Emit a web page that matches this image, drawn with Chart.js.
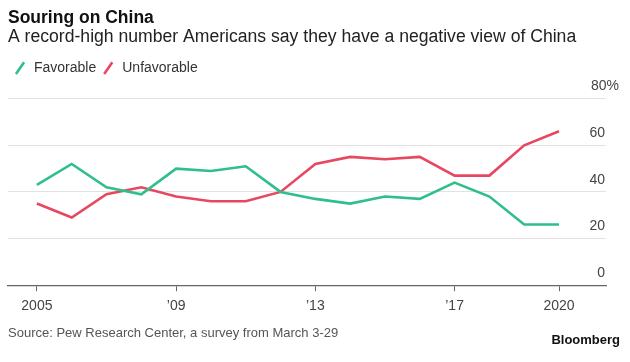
<!DOCTYPE html>
<html>
<head>
<meta charset="utf-8">
<script src="https://cdn.jsdelivr.net/npm/chart.js@4"></script>
<style>
  html, body { margin: 0; padding: 0; background: #fff; }
  #wrap { position: relative; width: 630px; height: 362px; font-family: "Liberation Sans", Arial, sans-serif; }
  #source { position: absolute; left: 8px; top: 325px; font-size: 13px; color: #555; }
  #brand { position: absolute; right: 10px; top: 332px; font-size: 13px; font-weight: bold; color: #111; }
</style>
</head>
<body>
<div id="wrap">
  <canvas id="chart" width="630" height="362"></canvas>
  <div id="source">Source: Pew Research Center, a survey from March 3-29</div>
  <div id="brand">Bloomberg</div>
</div>
<script>
// Dados
const years = [2005, 2006, 2007, 2008, 2009, 2010, 2011, 2012, 2013, 2014, 2015, 2016, 2017, 2018, 2019, 2020];
const favorable = [43, 52, 42, 39, 50, 49, 51, 40, 37, 35, 38, 37, 44, 38, 26, 26];
const unfavorable = [35, 29, 39, 42, 38, 36, 36, 40, 52, 55, 54, 55, 47, 47, 60, 66];
const xTicks = [2005, 2009, 2013, 2017, 2020];
const yTicks = [0, 20, 40, 60, 80];

const green = "#2fbf8b";
const red = "#e8485f";

function toPoints(values) {
    return years.map((y, i) => ({ x: y, y: values[i] }));
}

const ctx = document.getElementById("chart").getContext("2d");
new Chart(ctx, {
    type: "line",
    data: {
        datasets: [
            {
                label: "Favorable",
                data: toPoints(favorable),
                borderColor: green,
                backgroundColor: green,
                borderWidth: 2.6,
                pointRadius: 0,
                pointStyle: "line",
                pointRotation: -55,
                tension: 0
            },
            {
                label: "Unfavorable",
                data: toPoints(unfavorable),
                borderColor: red,
                backgroundColor: red,
                borderWidth: 2.6,
                pointRadius: 0,
                pointStyle: "line",
                pointRotation: -55,
                tension: 0
            }
        ]
    },
    options: {
        responsive: false,
        animation: false,
        layout: { padding: { left: 8, right: 24, bottom: 40 } },
        font: { family: "'Liberation Sans', Arial, sans-serif" },
        plugins: {
            title: {
                display: true,
                text: "Souring on China",
                align: "start",
                color: "#111",
                font: { size: 17.5, weight: "bold", lineHeight: 1 },
                padding: { top: 9, bottom: 1 }
            },
            subtitle: {
                display: true,
                text: "A record-high number Americans say they have a negative view of China",
                align: "start",
                color: "#222",
                font: { size: 17.6, lineHeight: 1 },
                padding: { top: 1, bottom: 10 }
            },
            legend: {
                display: true,
                position: "top",
                align: "start",
                labels: {
                    usePointStyle: true,
                    boxHeight: 10,
                    color: "#333",
                    font: { size: 14 },
                    padding: 5
                }
            },
            tooltip: { enabled: false }
        },
        scales: {
            x: {
                type: "linear",
                min: 2004.17,
                max: 2021.35,
                afterBuildTicks: (axis) => { axis.ticks = xTicks.map(v => ({ value: v })); },
                grid: { drawOnChartArea: false, drawTicks: true, tickLength: 6, color: "#666" },
                border: { display: true, color: "#666", width: 1.3 },
                ticks: {
                    padding: 7,
                    maxRotation: 0,
                    color: "#444",
                    font: { size: 14 },
                    callback: (v) => (v === 2005 || v === 2020) ? String(v) : "\u2019" + String(v).slice(2)
                }
            },
            y: {
                position: "right",
                min: 0,
                max: 85.8,
                afterBuildTicks: (axis) => { axis.ticks = yTicks.map(v => ({ value: v })); },
                afterFit: (axis) => { axis.width = 0; },
                grid: { drawTicks: false, color: "#e2e2e2", lineWidth: 1 },
                border: { display: false },
                ticks: {
                    mirror: true,
                    padding: 13,
                    labelOffset: -12,
                    color: "#444",
                    font: { size: 14 },
                    callback: (v) => v === 80 ? "80%" : v + "\u2003"
                }
            }
        }
    }
});
</script>
</body>
</html>
